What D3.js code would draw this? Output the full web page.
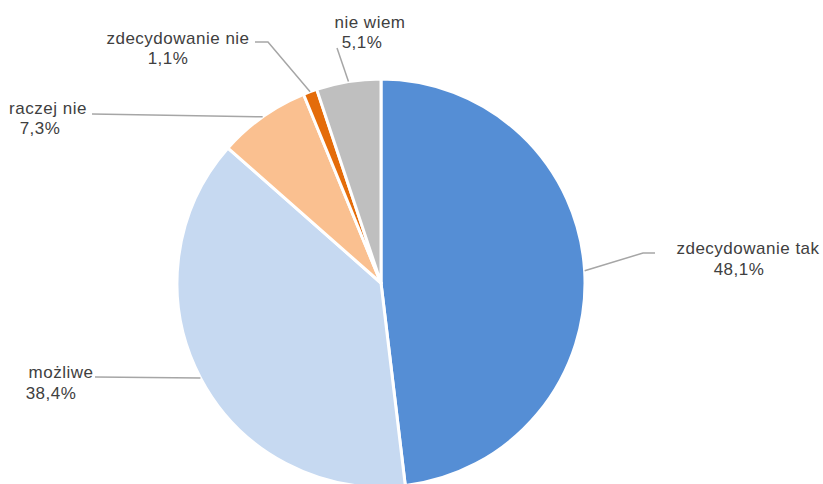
<!DOCTYPE html>
<html>
<head>
<meta charset="utf-8">
<script src="https://cdn.jsdelivr.net/npm/d3@7"></script>
<style>
  body { margin: 0; background: #fff; }
  text { font-family: "Liberation Sans", Arial, sans-serif; font-size: 17px; letter-spacing: 0.5px; fill: #404040; }
</style>
</head>
<body>
<svg></svg>
<script>
// data
var categories = ["zdecydowanie tak", "możliwe", "raczej nie", "zdecydowanie nie", "nie wiem"];
var values = [48.1, 38.4, 7.3, 1.1, 5.1];
var percentLabels = ["48,1%", "38,4%", "7,3%", "1,1%", "5,1%"];
var colors = ["#558ed5", "#c6d9f1", "#fac090", "#e46c0a", "#bfbfbf"];

// label layout: elbow points of the leader lines and text centres
var labelLayout = [
  {elbow: [[643, 253], [655, 253]], x1: 748, y1: 254, x2: 739, y2: 275},
  {elbow: [[95, 377]], x1: 61, y1: 378, x2: 51, y2: 399},
  {elbow: [[92, 114]], x1: 48, y1: 114, x2: 40, y2: 134},
  {elbow: [[268, 42], [255, 42]], x1: 178, y1: 44, x2: 168, y2: 64},
  {elbow: [[337, 48]], x1: 370, y1: 28, x2: 362, y2: 48}
];

var svgWidth = 823;
var svgHeight = 484;
var svg = d3.select("svg")
            .attr("width", svgWidth)
            .attr("height", svgHeight);

var cx = 381, cy = 283, radius = 204;

var pie = d3.pie().sort(null).value(function(d){ return d; });
var arcs = pie(values);

var arc = d3.arc().innerRadius(0).outerRadius(radius);

var g = svg.append("g").attr("transform", "translate(" + cx + "," + cy + ")");

g.selectAll("path.slice")
 .data(arcs)
 .enter()
 .append("path")
 .attr("class", "slice")
 .attr("d", arc)
 .attr("fill", function(d, i){ return colors[i]; })
 .attr("stroke", "#fff")
 .attr("stroke-width", 3)
 .attr("stroke-linejoin", "round");

// leader lines, from the arc at mid angle to the label
var line = d3.line();
svg.selectAll("path.leader")
   .data(arcs)
   .enter()
   .append("path")
   .attr("class", "leader")
   .attr("d", function(d, i){
     var a = (d.startAngle + d.endAngle) / 2;
     var p0 = [cx + radius * Math.sin(a), cy - radius * Math.cos(a)];
     return line([p0].concat(labelLayout[i].elbow));
   })
   .attr("fill", "none")
   .attr("stroke", "#a6a6a6")
   .attr("stroke-width", 1.5);

var labels = svg.selectAll("g.label")
   .data(arcs)
   .enter()
   .append("g")
   .attr("class", "label");

labels.append("text")
   .attr("x", function(d, i){ return labelLayout[i].x1; })
   .attr("y", function(d, i){ return labelLayout[i].y1; })
   .attr("text-anchor", "middle")
   .text(function(d, i){ return categories[i]; });

labels.append("text")
   .attr("x", function(d, i){ return labelLayout[i].x2; })
   .attr("y", function(d, i){ return labelLayout[i].y2; })
   .attr("text-anchor", "middle")
   .text(function(d, i){ return percentLabels[i]; });
</script>
</body>
</html>
